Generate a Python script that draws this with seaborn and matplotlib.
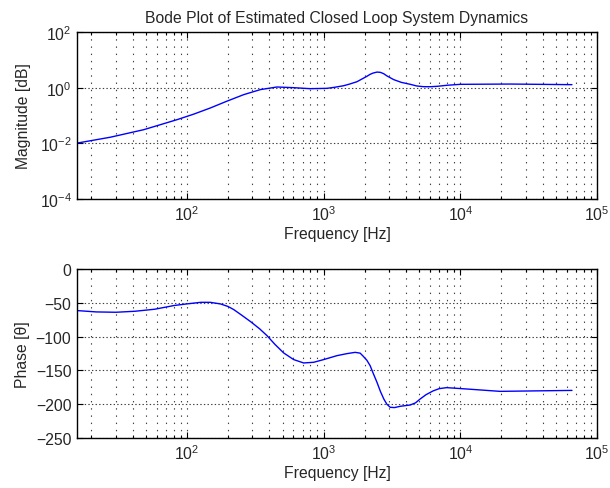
import numpy as np
import pandas as pd
import matplotlib
matplotlib.use("Agg")
import matplotlib.pyplot as plt
import matplotlib.ticker as mticker
import seaborn as sns

# ---- data ----
mag_freq = [15.7, 27.5, 48.2, 84.5, 112, 148, 195, 260, 344, 455, 603, 794,
            1057, 1200, 1400, 1550, 1754, 2075, 2188, 2300, 2455, 2600, 2754,
            2900, 3251, 3700, 4305, 4800, 5370, 6000, 6761, 8000, 10000,
            23230, 65600]
mag_val = [0.0102, 0.0166, 0.0309, 0.0708, 0.112, 0.186, 0.324, 0.562, 0.851,
           1.057, 1.0, 0.92, 0.946, 1.03, 1.175, 1.35, 1.64, 2.57, 3.02, 3.35,
           3.63, 3.55, 3.16, 2.65, 1.95, 1.55, 1.318, 1.15, 1.086, 1.08, 1.117,
           1.22, 1.318, 1.349, 1.282]

ph_freq = [15.7, 21.7, 30.2, 41.7, 58.1, 80.5, 100, 126, 148, 176, 200, 220,
           250, 292, 340, 385, 440, 510, 603, 714, 845, 1000, 1250, 1479, 1700,
           1850, 1950, 2070, 2188, 2300, 2455, 2600, 2754, 2900, 3069, 3300,
           3631, 4295, 4700, 5082, 5600, 6310, 7000, 7943, 11120, 19500, 65600]
ph_val = [-61.5, -63.5, -64, -62.5, -59.5, -54, -51.6, -49.3, -49.3, -51.7,
          -55.5, -60.1, -68, -77.9, -88.5, -98.6, -111.5, -124.2, -134, -139,
          -138, -134, -128.2, -125.2, -123.3, -124.5, -129.2, -135, -143,
          -154, -167.6, -181, -192.3, -200, -204.6, -205, -203.1, -201.2,
          -198, -192.3, -186, -180.4, -177, -175.5, -177.5, -181, -179.6]

mag_yticks = [1e-4, 1e-2, 1e0, 1e2]
ph_yticks = [0, -50, -100, -150, -200, -250]

title = "Bode Plot of Estimated Closed Loop System Dynamics"
xlabel = "Frequency [Hz]"

# ---- style ----
sns.set_style("ticks")
plt.rcParams["font.family"] = ["Liberation Sans", "DejaVu Sans"]
plt.rcParams["mathtext.fontset"] = "custom"
plt.rcParams["mathtext.rm"] = "Liberation Sans"
plt.rcParams["mathtext.it"] = "Liberation Sans"
plt.rcParams["mathtext.default"] = "regular"
plt.rcParams["lines.scale_dashes"] = False
plt.rcParams["axes.unicode_minus"] = True

FS = 11.3
fig = plt.figure(figsize=(6.1, 4.89), dpi=100)
ax1 = fig.add_axes([77 / 610, 1 - 200 / 489, 520 / 610, 167 / 489])
ax2 = fig.add_axes([77 / 610, 1 - 439 / 489, 520 / 610, 169 / 489])

df_mag = pd.DataFrame({"f": mag_freq, "m": mag_val})
df_ph = pd.DataFrame({"f": ph_freq, "p": ph_val})

sns.lineplot(data=df_mag, x="f", y="m", ax=ax1, color="#0000ff", lw=1.0,
             estimator=None, sort=True)
sns.lineplot(data=df_ph, x="f", y="p", ax=ax2, color="#0000ff", lw=1.0,
             estimator=None, sort=True)

for ax in (ax1, ax2):
    ax.set_xscale("log")
    ax.set_xlim(15.67, 1e5)
    ax.xaxis.set_major_locator(mticker.FixedLocator([1e2, 1e3, 1e4, 1e5]))
    ax.xaxis.set_major_formatter(mticker.LogFormatterMathtext())
    ax.xaxis.set_minor_locator(mticker.LogLocator(base=10, subs=np.arange(2, 10), numticks=20))
    ax.xaxis.set_minor_formatter(mticker.NullFormatter())
    ax.tick_params(which="both", direction="in", top=True, right=True,
                   labelsize=FS, color="black", width=0.8, pad=4)
    ax.tick_params(which="major", length=4.5)
    ax.tick_params(which="minor", length=2.5)
    for s in ax.spines.values():
        s.set_visible(True)
        s.set_linewidth(1.0)
        s.set_color("black")
    ax.grid(True, which="major", axis="y", color="#404040", lw=0.8,
            ls=(0, (1.0, 1.6)))
    ax.grid(True, which="both", axis="x", color="#404040", lw=0.8,
            ls=(0, (1.0, 4.2)))
    ax.set_xlabel(xlabel, fontsize=FS, labelpad=2)
    ax.set_axisbelow(True)

ax1.set_yscale("log")
ax1.set_ylim(1e-4, 1e2)
ax1.yaxis.set_major_locator(mticker.FixedLocator(mag_yticks))
ax1.yaxis.set_major_formatter(mticker.LogFormatterMathtext())
ax1.yaxis.set_minor_locator(mticker.NullLocator())
ax1.set_ylabel("Magnitude [dB]", fontsize=FS, labelpad=6)
ax1.set_title(title, fontsize=FS, pad=7)

ax2.set_ylim(-250, 0)
ax2.yaxis.set_major_locator(mticker.FixedLocator(ph_yticks))
ax2.yaxis.set_minor_locator(mticker.NullLocator())
ax2.set_ylabel("Phase [θ]", fontsize=FS, labelpad=4)

fig.savefig("out.png", dpi=100, facecolor="white")
